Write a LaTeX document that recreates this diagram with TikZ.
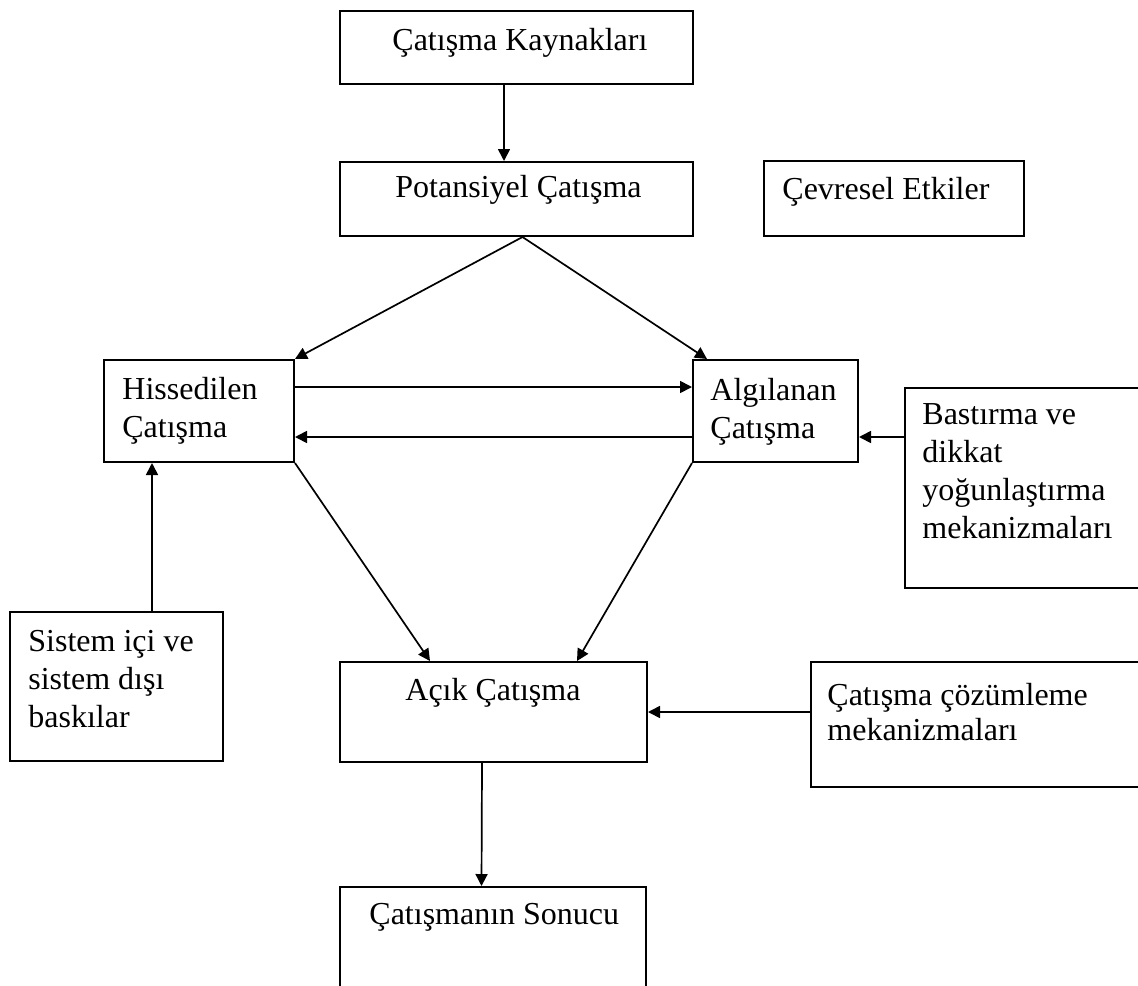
\documentclass[tikz,border=0pt]{standalone}
\usepackage{fontspec}
\setmainfont{Liberation Serif}
\usepackage{tikz}
\usetikzlibrary{arrows.meta,positioning,calc}
\tikzset{
  >={Triangle[length=6pt,width=6pt]},
  block/.style={draw, line width=1pt, rectangle, anchor=north west, inner sep=0pt},
  lbl/.style={anchor=north west, inner sep=0pt, align=left, font=\fontsize{16pt}{19pt}\selectfont},
  conn/.style={->, line width=0.85pt},
}

\begin{document}
\begin{tikzpicture}[x=0.5pt, y=-0.5pt]
  \useasboundingbox (0,0) rectangle (1138,985);
  \clip (0,0) rectangle (1138,985);
  % boxes
  \node[block, minimum width=176.5pt, minimum height=36.5pt] (kaynak) at (339,10) {};
  \node[block, minimum width=176.5pt, minimum height=37pt] (pot) at (339,161) {};
  \node[block, minimum width=130pt, minimum height=37.5pt] (cevre) at (763,160) {};
  \node[block, minimum width=95pt, minimum height=51pt] (hisse) at (103,359) {};
  \node[block, minimum width=82.5pt, minimum height=51pt] (algi) at (692,359) {};
  \node[block, minimum width=125pt, minimum height=100pt] (bastirma) at (904,387) {};
  \node[block, minimum width=106.5pt, minimum height=74.5pt] (sistem) at (9,611) {};
  \node[block, minimum width=153.5pt, minimum height=50pt] (acik) at (339,661) {};
  \node[block, minimum width=175pt, minimum height=62.5pt] (cozum) at (810,661) {};
  \node[block, minimum width=153pt, minimum height=60pt] (sonuc) at (339,886) {};

  % texts
  \node[lbl] (tkaynak) at ([shift={(53,18)}]kaynak.north west) {Çatışma Kaynakları};
  \node[lbl] (tpot) at ([shift={(56,14)}]pot.north west) {Potansiyel Çatışma};
  \node[lbl] (tcevre) at ([shift={(19,17)}]cevre.north west) {Çevresel Etkiler};
  \node[lbl] (thisse) at ([shift={(19,18)}]hisse.north west) {Hissedilen\\Çatışma};
  \node[lbl] (talgi) at ([shift={(18,19)}]algi.north west) {Algılanan\\Çatışma};
  \node[lbl] (tbastirma) at ([shift={(18,16)}]bastirma.north west) {Bastırma ve\\dikkat\\yoğunlaştırma\\mekanizmaları};
  \node[lbl] (tsistem) at ([shift={(19,19)}]sistem.north west) {Sistem içi ve\\sistem dışı\\baskılar};
  \node[lbl] (tacik) at ([shift={(66,17)}]acik.north west) {Açık Çatışma};
  \node[lbl, font=\fontsize{16pt}{17.5pt}\selectfont] (tcozum) at ([shift={(17,22)}]cozum.north west) {Çatışma çözümleme\\mekanizmaları};
  \node[lbl] (tsonuc) at ([shift={(30,17)}]sonuc.north west) {Çatışmanın Sonucu};

  % connections
  \draw[conn] ([xshift=-6.25pt]kaynak.south) -- ([xshift=-6.25pt]pot.north);
  \draw[conn] ([xshift=3pt]pot.south) -- (hisse.north east);
  \draw[conn] ([xshift=3pt]pot.south) -- ([xshift=7.5pt]algi.north west);
  \draw[conn] ([yshift=12pt]hisse.east) -- ([yshift=12pt]algi.west);
  \draw[conn] ([yshift=-13pt]algi.west) -- ([yshift=-13pt]hisse.east);
  \draw[conn] ([yshift=-13pt]algi.east -| bastirma.west) -- ([yshift=-13pt]algi.east);
  \draw[conn] ([xshift=17.75pt]sistem.north) -- ([xshift=17.75pt]sistem.north |- hisse.south);
  \draw[conn] (hisse.south east) -- ([xshift=45.5pt]acik.north west);
  \draw[conn] (algi.south west) -- ([xshift=119pt]acik.north west);
  \draw[conn] (cozum.west |- acik.east) -- (acik.east);
  \draw[conn] ([xshift=-5.75pt]acik.south) -- ([xshift=-5.75pt]sonuc.north);
\end{tikzpicture}
\end{document}
